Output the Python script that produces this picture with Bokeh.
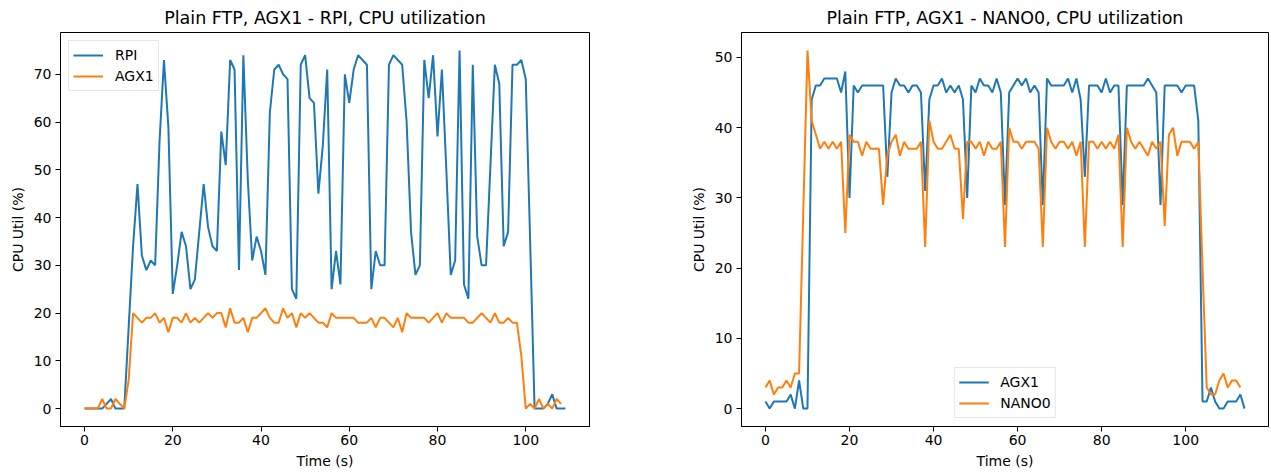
from bokeh.plotting import figure
from bokeh.layouts import row
from bokeh.models import FixedTicker, Range1d, Legend, LegendItem
from bokeh.embed import file_html
from bokeh.resources import INLINE

# ---------------- data ----------------
left_title = "Plain FTP, AGX1 - RPI, CPU utilization"
right_title = "Plain FTP, AGX1 - NANO0, CPU utilization"
x_label = "Time (s)"
y_label = "CPU Util (%)"

rpi = [0, 0, 0, 0, 0, 1, 2, 0, 0, 0,
       17, 34, 47, 32, 29, 31, 30, 56, 73, 59,
       24, 30, 37, 34, 25, 27, 37, 47, 38, 34,
       33, 58, 51, 73, 71, 29, 74, 48, 31, 36,
       33, 28, 62, 71, 72, 70, 69, 25, 23, 72,
       74, 65, 64, 45, 55, 71, 25, 33, 26, 70,
       64, 71, 74, 73, 72, 25, 33, 30, 30, 72,
       74, 73, 72, 60, 37, 28, 30, 73, 65, 74,
       57, 71, 50, 28, 31, 75, 26, 23, 72, 36,
       30, 30, 51, 72, 68, 34, 37, 72, 72, 73,
       69, 35, 0, 0, 0, 1, 3, 0, 0, 0]

agx1_left = [0, 0, 0, 0, 2, 0, 0, 2, 1, 0,
             6, 20, 19, 18, 19, 19, 20, 18, 19, 16,
             19, 19, 18, 20, 18, 19, 18, 19, 20, 19,
             20, 20, 17, 21, 18, 18, 19, 16, 19, 19,
             20, 21, 19, 18, 18, 21, 19, 20, 17, 20,
             19, 20, 19, 18, 18, 17, 20, 19, 19, 19,
             19, 19, 18, 18, 18, 19, 17, 19, 19, 18,
             17, 19, 16, 20, 19, 19, 19, 19, 18, 19,
             20, 18, 20, 19, 19, 19, 19, 18, 18, 19,
             20, 19, 18, 20, 18, 18, 19, 18, 18, 11,
             0, 1, 0, 2, 0, 1, 0, 2, 1]

agx1_right = [1, 0, 1, 1, 1, 1, 2, 0, 4, 0,
              0, 44, 46, 46, 47, 47, 47, 47, 45, 48,
              30, 46, 45, 46, 46, 46, 46, 46, 46, 33,
              45, 47, 46, 46, 45, 46, 46, 45, 31, 44,
              46, 46, 47, 45, 46, 45, 46, 44, 30, 46,
              45, 47, 46, 46, 45, 47, 45, 29, 45, 46,
              47, 46, 47, 45, 46, 45, 29, 47, 46, 46,
              46, 46, 47, 45, 47, 44, 33, 46, 46, 46,
              45, 47, 45, 46, 46, 29, 46, 46, 46, 46,
              46, 47, 46, 45, 29, 46, 46, 46, 46, 45,
              46, 46, 46, 41, 1, 1, 3, 1, 0, 0,
              1, 1, 1, 2, 0]

nano0 = [3, 4, 2, 3, 3, 4, 3, 5, 5, 28,
         51, 41, 39, 37, 38, 37, 38, 37, 38, 25,
         39, 38, 38, 36, 38, 37, 37, 37, 29, 36,
         38, 39, 36, 38, 37, 37, 37, 38, 23, 41,
         38, 37, 37, 38, 39, 37, 37, 27, 38, 38,
         37, 38, 36, 38, 37, 37, 38, 23, 40, 38,
         38, 37, 38, 38, 38, 37, 23, 40, 38, 37,
         38, 38, 37, 38, 36, 38, 23, 38, 38, 37,
         38, 37, 38, 37, 39, 23, 40, 38, 37, 38,
         37, 36, 38, 37, 38, 26, 39, 40, 36, 38,
         38, 38, 37, 38, 20, 3, 2, 2, 4, 5,
         3, 4, 4, 3]

x_ticks = [0, 20, 40, 60, 80, 100]
left_y_ticks = [0, 10, 20, 30, 40, 50, 60, 70]
right_y_ticks = [0, 10, 20, 30, 40, 50]

BLUE = "#1f77b4"
ORANGE = "#ff7f0e"
FONT = "DejaVu Sans"


def padded(vals):
    lo, hi = min(vals), max(vals)
    pad = 0.05 * (hi - lo)
    return Range1d(lo - pad, hi + pad)


def make(title, series, yticks, legend_loc, fw, b_left, b_right):
    all_x = [i for _, ys, _ in series for i in range(len(ys))]
    all_y = [v for _, ys, _ in series for v in ys]
    p = figure(frame_width=fw, frame_height=394, output_backend="svg",
               toolbar_location=None, title=title,
               x_range=padded(all_x), y_range=padded(all_y),
               min_border_left=b_left, min_border_right=b_right,
               min_border_top=32, min_border_bottom=48)
    p.title.align = "center"
    p.title.text_font = FONT
    p.title.text_font_size = "17.5px"
    p.title.text_font_style = "normal"
    p.title.text_color = "#000000"
    p.title.standoff = 9
    p.xgrid.visible = False
    p.ygrid.visible = False
    p.outline_line_color = "#000000"
    p.outline_line_alpha = 1
    p.outline_line_width = 1
    p.background_fill_color = "white"
    p.border_fill_color = "white"

    for ax, ticks, lab in ((p.xaxis[0], x_ticks, x_label), (p.yaxis[0], yticks, y_label)):
        ax.ticker = FixedTicker(ticks=ticks)
        ax.axis_label = lab
        ax.axis_label_text_font = FONT
        ax.axis_label_text_font_size = "14px"
        ax.axis_label_text_font_style = "normal"
        ax.axis_label_text_color = "#000000"
        ax.major_label_text_font = FONT
        ax.major_label_text_font_size = "14px"
        ax.major_label_text_color = "#000000"
        ax.major_tick_in = 0
        ax.major_tick_out = 5
        ax.minor_tick_line_color = None
        ax.axis_line_color = "#000000"
        ax.major_tick_line_color = "#000000"
    p.xaxis[0].major_label_standoff = 3
    p.xaxis[0].axis_label_standoff = 5
    p.yaxis[0].major_label_standoff = 4
    p.yaxis[0].axis_label_standoff = 5

    items = []
    for name, ys, col in series:
        r = p.line(list(range(len(ys))), ys, line_color=col, line_width=2)
        items.append(LegendItem(label=name, renderers=[r]))
    leg = Legend(items=items, location=legend_loc)
    leg.label_text_font = FONT
    leg.label_text_font_size = "14px"
    leg.label_text_color = "#000000"
    leg.glyph_width = 30
    leg.glyph_height = 20
    leg.label_height = 20
    leg.label_standoff = 12
    leg.spacing = 1
    leg.padding = 4
    leg.margin = 8
    leg.border_line_color = "#cccccc"
    leg.border_line_width = 1
    leg.background_fill_alpha = 0.8
    p.add_layout(leg)
    return p


p1 = make(left_title, [("RPI", rpi, BLUE), ("AGX1", agx1_left, ORANGE)],
          left_y_ticks, "top_left", 529, 60, 92)
p2 = make(right_title, [("AGX1", agx1_right, BLUE), ("NANO0", nano0, ORANGE)],
          right_y_ticks, "bottom_center", 527, 60, 2)

layout = row(p1, p2)
open("out.html", "w").write(file_html(layout, INLINE))
